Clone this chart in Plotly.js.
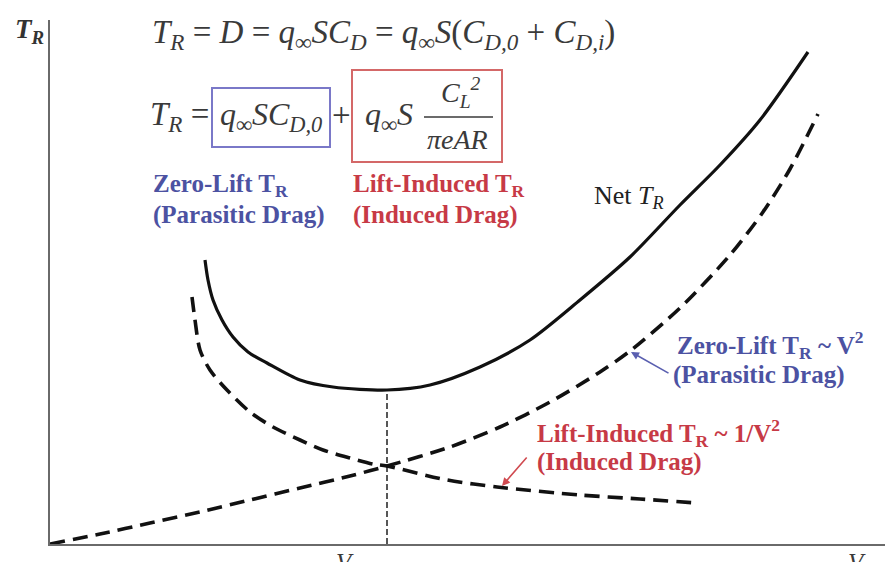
<!DOCTYPE html>
<html>
<head>
<meta charset="utf-8">
<script src="https://cdn.plot.ly/plotly-3.0.1.min.js"></script>
<style>
  html, body { margin: 0; padding: 0; background: #ffffff; }
  #chart { width: 895px; height: 562px; }
</style>
</head>
<body>
<div id="chart"></div>
<script>
// Thrust required vs. flight speed (schematic units)

// Net thrust required (solid curve)
const netSpeed  = [155, 158, 163, 172, 183, 198, 217, 250, 283, 337, 380, 430, 480, 530, 580, 630, 670, 710, 758];
const netThrust = [284, 264, 244, 224, 207, 192, 181, 164, 157, 154, 159, 177, 204, 244, 287, 339, 379, 424, 492];

// Zero-lift (parasitic) thrust required ~ V^2 (dashed)
const zeroSpeed  = [0, 50, 100, 150, 200, 250, 300, 337, 400, 450, 500, 550, 580, 630, 680, 713, 740, 768];
const zeroThrust = [0, 10, 21, 32, 44, 56, 68, 78, 97, 117, 142, 172, 193, 236, 289, 332, 375, 430];

// Lift-induced thrust required ~ 1/V^2 (dashed)
const indSpeed  = [142, 145, 150, 160, 177, 200, 223, 250, 273, 300, 323, 337, 397, 447, 530, 590, 647];
const indThrust = [247, 224, 194, 174, 154, 132, 117, 104, 94, 86, 80, 78, 64, 57, 49, 45, 41];

// Speed for minimum thrust required and the thrust there
const vMin = [337, 337];
const vMinThrust = [0, 154];

const axisRange = { speed: [0, 835], thrust: [0, 524] };

// Plot-area geometry in page pixels
const L = 50, R = 10, T = 20, B = 544;
const W = 895 - L - R, H = B - T;
const X = px => px - L;          // page x -> speed units
const Y = py => B - py;          // page y -> thrust units
const PX = px => (px - L) / W;   // page x -> paper
const PY = py => (B - py) / H;   // page y -> paper

const BLUE = '#4c52a2';
const RED = '#c73a46';
const INK = '#3a3a3a';
const SERIF = 'Liberation Serif';

const traces = [
  {
    x: netSpeed, y: netThrust, mode: 'lines', type: 'scatter',
    line: { color: '#111', width: 3.2, shape: 'spline', smoothing: 0.8 },
    hoverinfo: 'skip', showlegend: false
  },
  {
    x: zeroSpeed, y: zeroThrust, mode: 'lines', type: 'scatter',
    line: { color: '#111', width: 3.6, dash: '15px,8px', shape: 'spline', smoothing: 0.8 },
    hoverinfo: 'skip', showlegend: false
  },
  {
    x: indSpeed, y: indThrust, mode: 'lines', type: 'scatter',
    line: { color: '#111', width: 3.6, dash: '15px,8px', shape: 'spline', smoothing: 0.8 },
    hoverinfo: 'skip', showlegend: false
  },
  {
    x: vMin, y: vMinThrust, mode: 'lines', type: 'scatter',
    line: { color: '#111', width: 1.4, dash: '6px,3px' },
    hoverinfo: 'skip', showlegend: false
  }
];

function txt(text, px, py, opts) {
  opts = opts || {};
  return {
    text: text, x: PX(px), y: PY(py), xref: 'paper', yref: 'paper',
    xanchor: opts.xanchor || 'left', yanchor: opts.yanchor || 'middle',
    showarrow: false,
    font: { family: SERIF, size: opts.size || 22, color: opts.color || INK }
  };
}

function arrow(tailX, tailY, tipX, tipY, color) {
  return {
    text: '', x: X(tipX), y: Y(tipY), ax: X(tailX), ay: Y(tailY),
    xref: 'x', yref: 'y', axref: 'x', ayref: 'y',
    showarrow: true, arrowhead: 2, arrowsize: 1, arrowwidth: 1.6,
    arrowcolor: color, standoff: 0
  };
}

const annotations = [
  // axis labels
  txt('<b><i>T<sub>R</sub></i></b>', 29, 31, { xanchor: 'center', size: 27, color: '#333' }),
  txt('<i>V<sub>T<sub>R</sub>min</sub></i>', 334, 547, { yanchor: 'top', size: 25 }),
  txt('<i>V<sub>∞</sub></i>', 846, 547, { yanchor: 'top', size: 25 }),

  // drag equations
  txt('<i>T<sub>R</sub></i> = <i>D</i> = <i>q<sub>∞</sub>SC<sub>D</sub></i> = <i>q<sub>∞</sub>S</i>(<i>C<sub>D,0</sub></i> + <i>C<sub>D,i</sub></i>)',
      150, 35, { size: 33 }),
  txt('<i>T<sub>R</sub></i> =', 148, 117, { size: 33 }),
  txt('<i>q<sub>∞</sub>SC<sub>D,0</sub></i>', 271, 117, { xanchor: 'center', size: 32 }),
  txt('+', 341, 115, { xanchor: 'center', size: 33 }),
  txt('<i>q<sub>∞</sub>S</i>', 389, 117, { xanchor: 'center', size: 32 }),
  txt('<i>C<sub>L</sub><sup>2</sup></i>', 461, 93, { xanchor: 'center', size: 28 }),
  txt('<i>πeAR</i>', 457, 139, { xanchor: 'center', size: 28 }),

  // component labels under the equation
  txt('<b>Zero-Lift T<sub>R</sub></b>', 151, 185, { size: 25, color: BLUE }),
  txt('<b>(Parasitic Drag)</b>', 151, 215, { size: 25, color: BLUE }),
  txt('<b>Lift-Induced T<sub>R</sub></b>', 351, 185, { size: 25, color: RED }),
  txt('<b>(Induced Drag)</b>', 351, 215, { size: 25, color: RED }),

  // curve labels
  txt('Net <i>T<sub>R</sub></i>', 592, 197, { size: 26, color: '#222' }),
  txt('<b>Zero-Lift T<sub>R</sub> ~ V<sup>2</sup></b>', 675, 345, { size: 25, color: BLUE }),
  txt('<b>(Parasitic Drag)</b>', 671, 375, { size: 25, color: BLUE }),
  txt('<b>Lift-Induced T<sub>R</sub> ~ 1/V<sup>2</sup></b>', 535, 433, { size: 25, color: RED }),
  txt('<b>(Induced Drag)</b>', 535, 462, { size: 25, color: RED }),

  arrow(670, 374, 631, 352, '#5a5fb0'),
  arrow(528, 456, 502, 486, '#d04a50')
];

const shapes = [
  // boxes around the two drag terms
  { type: 'rect', xref: 'x', yref: 'y', x0: X(212), x1: X(330), y0: Y(88), y1: Y(147),
    line: { color: '#7a78c8', width: 2 }, fillcolor: 'rgba(0,0,0,0)' },
  { type: 'rect', xref: 'x', yref: 'y', x0: X(352), x1: X(502), y0: Y(70), y1: Y(162),
    line: { color: '#d46868', width: 2 }, fillcolor: 'rgba(0,0,0,0)' },
  // fraction bar
  { type: 'line', xref: 'x', yref: 'y', x0: X(424), x1: X(493), y0: Y(117), y1: Y(117),
    line: { color: INK, width: 1.6 } }
];

const layout = {
  width: 895, height: 562,
  margin: { l: L, r: R, t: T, b: 562 - B, pad: 0 },
  paper_bgcolor: '#ffffff', plot_bgcolor: '#ffffff',
  font: { family: SERIF, color: INK },
  showlegend: false,
  xaxis: {
    range: axisRange.speed, showgrid: false, zeroline: false,
    showline: true, linecolor: '#6a6a6a', linewidth: 2.2,
    showticklabels: false, ticks: '', fixedrange: true
  },
  yaxis: {
    range: axisRange.thrust, showgrid: false, zeroline: false,
    showline: true, linecolor: '#6a6a6a', linewidth: 2.2,
    showticklabels: false, ticks: '', fixedrange: true
  },
  annotations: annotations,
  shapes: shapes
};

Plotly.newPlot('chart', traces, layout, { displayModeBar: false, staticPlot: true });
</script>
</body>
</html>
